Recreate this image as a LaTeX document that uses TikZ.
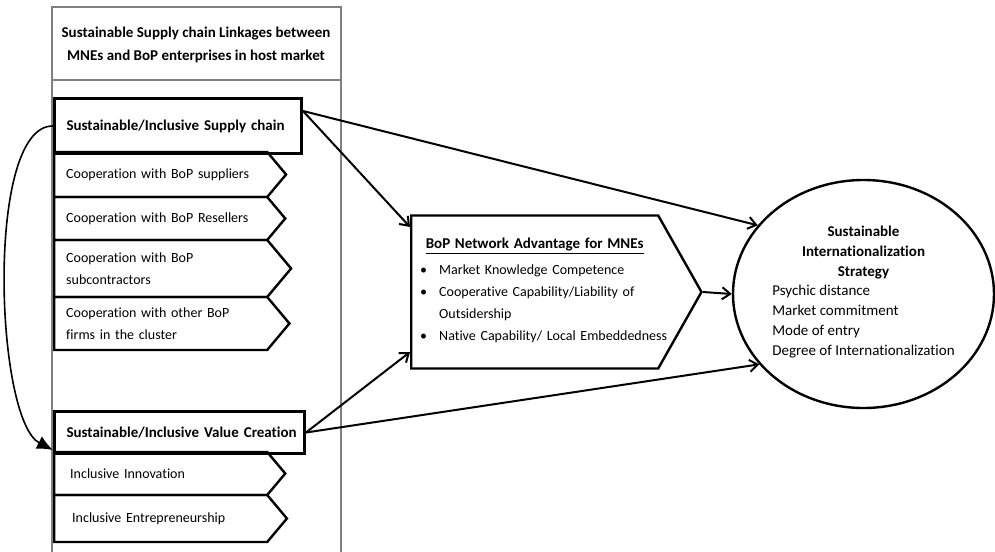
\documentclass[tikz,border=0pt]{standalone}
\usepackage{fontspec}
\setmainfont{Carlito}[RawFeature=-liga]
\usetikzlibrary{arrows.meta,shapes.symbols,shapes.geometric}

\tikzset{
  head/.style={draw, line width=1.5pt, rectangle, inner xsep=6pt, align=left,
    font=\fontsize{7.5}{11}\selectfont\bfseries, anchor=north west},
  item/.style={draw, line width=1.2pt, signal, signal to=east, signal from=nowhere,
    signal pointer angle=100, inner xsep=6pt, inner ysep=0pt, text width=94.5pt,
    align=left, font=\fontsize{7}{11}\selectfont, anchor=west},
  link/.style={line width=1pt, -{Straight Barb[length=4pt,width=6pt]}}
}

\begin{document}
\begin{tikzpicture}[x=0.5pt, y=-0.5pt]
    \useasboundingbox (0,0) rectangle (995,551);
    % column with the linkages
    \draw[gray, line width=0.6pt] (52,560) -- (52,7) -- (341,7) -- (341,560);
    \draw[gray, line width=0.6pt] (52,80) -- (341,80);
    \node[align=center, font=\fontsize{7.5}{11.5}\selectfont\bfseries] (title) at (196,45)
        {Sustainable Supply chain Linkages between\\MNEs and BoP enterprises in host market};

    \node[head, text width=111.5pt, minimum height=27.5pt] (sc) at (53,97)
        {\mbox{Sustainable/Inclusive Supply chain}};
    \node[item, minimum height=22.5pt] (sup) at (53,174.5) {Cooperation with BoP suppliers};
    \node[item, minimum height=21.5pt] (res) at (53,218.5) {Cooperation with BoP Resellers};
    \node[item, minimum height=28.5pt] (sub) at (53,268.5) {Cooperation with BoP\\subcontractors};
    \node[item, minimum height=26.5pt] (oth) at (53,323.5) {Cooperation with other BoP\\firms in the cluster};

    \node[head, text width=113pt, minimum height=21pt] (vc) at (53,410)
        {\mbox{Sustainable/Inclusive Value Creation}};
    \node[item, minimum height=21.5pt] (inn) at (53,473.5) {\hspace{2pt}Inclusive Innovation\\[6pt]};
    \node[item, minimum height=23.5pt] (ent) at (53,518.5) {\hspace{3pt}Inclusive Entrepreneurship\\[4pt]};

    % network advantage
    \node[draw, line width=1.2pt, signal, signal to=east, signal from=nowhere,
          signal pointer angle=121, minimum height=76.5pt, inner xsep=4pt,
          text width=115.5pt, font=\fontsize{7}{11}\selectfont, anchor=west] (bop) at (410,292)
        {\centering\fontsize{7.5}{11}\selectfont\textbf{\underline{BoP Network Advantage for MNEs}}\par
         \raggedright\fontsize{7}{11}\selectfont
         \begin{list}{\textbullet}{\leftmargin=10pt \labelsep=6pt \itemsep=0pt \parsep=0pt \topsep=0pt}
         \item Market Knowledge Competence
         \item Cooperative Capability/Liability of Outsidership
         \item \leavevmode\rlap{Native Capability/ Local Embeddedness}
         \end{list}\vspace{8pt}};

    % strategy
    \node[draw, line width=1.2pt, ellipse, minimum width=130.5pt, minimum height=114pt,
          inner sep=0pt, align=center, font=\fontsize{7.5}{10}\selectfont] (str) at (863.5,294)
        {\textbf{Sustainable}\\\textbf{Internationalization}\\\textbf{Strategy}\\
         \begin{tabular}{@{}l@{}}Psychic distance\\Market commitment\\Mode of entry\\
         Degree of Internationalization\end{tabular}};

    \draw[link] ([yshift=-7pt]sc.north east) -- ([yshift=32.5pt]bop.west);
    \draw[link] ([yshift=-7pt]sc.north east) -- (str.147);
    \draw[link] (vc.east) -- ([yshift=-30pt]bop.west);
    \draw[link] (vc.east) -- (str.214);
    \draw[link] (bop.east) -- (str.west);
    \draw[line width=0.8pt, -{Latex[length=8pt,width=7pt]}] (sc.west)
        .. controls (-15,125) and (-5,420) .. ([yshift=2.5pt]vc.south west);
\end{tikzpicture}
\end{document}
